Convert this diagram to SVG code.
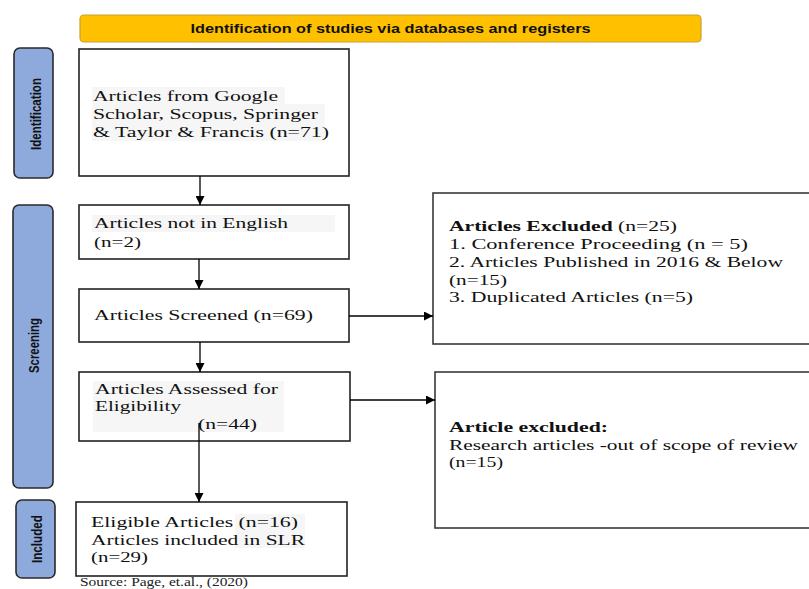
<svg xmlns="http://www.w3.org/2000/svg" width="809" height="589" viewBox="0 0 809 589">
<defs>
<marker id="arr" viewBox="0 0 10 10" refX="10" refY="5" markerWidth="9" markerHeight="9" markerUnits="userSpaceOnUse" orient="auto">
<path d="M0,0 L10,5 L0,10 z" fill="#000"/>
</marker>
<style>
.box{fill:#fff;stroke:#222;stroke-width:1.6}
.rbox{fill:#fff;stroke:#3a3a3a;stroke-width:1.6}
.side{fill:#8EA9DB;stroke:#2a2a2a;stroke-width:1.6}
.hdr{fill:#FFC000;stroke:#C9A030;stroke-width:1.2}
.t{font-family:"Liberation Serif","Times New Roman",serif;font-size:15.5px;fill:#111}
.tb{font-family:"Liberation Serif","Times New Roman",serif;font-size:15.5px;font-weight:bold;fill:#111}
.s{font-family:"Liberation Sans",Arial,sans-serif;font-weight:bold;font-size:14px;fill:#111}
.h{font-family:"Liberation Sans",Arial,sans-serif;font-weight:bold;font-size:12.5px;fill:#111}
.src{font-family:"Liberation Serif","Times New Roman",serif;font-size:12px;fill:#222}
.shade{fill:#f6f6f6}
.c{stroke:#000;stroke-width:1.3;fill:none}
</style>
</defs>

<g id="header">
<rect class="hdr" x="80" y="15" width="621" height="27" rx="4"/>
<text class="h" x="390.5" y="33" text-anchor="middle" textLength="400" lengthAdjust="spacingAndGlyphs">Identification of studies via databases and registers</text>
</g>

<g id="side-identification">
<rect class="side" x="14" y="48" width="39" height="130" rx="6"/>
<text class="s" transform="translate(41,114) rotate(-90)" text-anchor="middle" textLength="72" lengthAdjust="spacingAndGlyphs">Identification</text>
</g>
<g id="side-screening">
<rect class="side" x="13" y="205" width="40" height="283" rx="6"/>
<text class="s" transform="translate(39,345.5) rotate(-90)" text-anchor="middle" textLength="55" lengthAdjust="spacingAndGlyphs">Screening</text>
</g>
<g id="side-included">
<rect class="side" x="16" y="500" width="39" height="78" rx="6"/>
<text class="s" transform="translate(42,539) rotate(-90)" text-anchor="middle" textLength="48" lengthAdjust="spacingAndGlyphs">Included</text>
</g>

<g id="box-identified">
<rect class="box" x="79" y="49" width="270" height="127"/>
<rect class="shade" x="92" y="87" width="193" height="54"/>
<rect class="shade" x="285" y="104" width="40" height="37"/>
<text class="t" x="93" y="101" textLength="185" lengthAdjust="spacingAndGlyphs">Articles from Google</text>
<text class="t" x="93" y="119" textLength="225" lengthAdjust="spacingAndGlyphs">Scholar, Scopus, Springer</text>
<text class="t" x="93" y="137" textLength="236" lengthAdjust="spacingAndGlyphs">&amp; Taylor &amp; Francis (n=71)</text>
</g>

<g id="box-not-english">
<rect class="box" x="79" y="205" width="270" height="54"/>
<rect class="shade" x="92" y="215" width="243" height="17"/>
<text class="t" x="94" y="228" textLength="194" lengthAdjust="spacingAndGlyphs">Articles not in English</text>
<text class="t" x="94" y="247" textLength="47" lengthAdjust="spacingAndGlyphs">(n=2)</text>
</g>

<g id="box-screened">
<rect class="box" x="79" y="289" width="270" height="53"/>
<text class="t" x="94" y="320" textLength="219" lengthAdjust="spacingAndGlyphs">Articles Screened (n=69)</text>
</g>

<g id="box-assessed">
<rect class="box" x="79" y="372" width="271" height="69"/>
<rect class="shade" x="93" y="381" width="191" height="51"/>
<text class="t" x="95" y="394" textLength="183" lengthAdjust="spacingAndGlyphs">Articles Assessed for</text>
<text class="t" x="95" y="411" textLength="86" lengthAdjust="spacingAndGlyphs">Eligibility</text>
<text class="t" x="198" y="429" textLength="59" lengthAdjust="spacingAndGlyphs">(n=44)</text>
</g>

<g id="box-included">
<rect class="box" x="76" y="502" width="271" height="74"/>
<rect class="shade" x="235" y="514" width="70" height="34"/>
<text class="t" x="91" y="527" textLength="207" lengthAdjust="spacingAndGlyphs">Eligible Articles (n=16)</text>
<text class="t" x="91" y="544.5" textLength="214" lengthAdjust="spacingAndGlyphs">Articles included in SLR</text>
<text class="t" x="91" y="562" textLength="57" lengthAdjust="spacingAndGlyphs">(n=29)</text>
</g>

<g id="box-excluded-1">
<rect class="rbox" x="433" y="193" width="385" height="151"/>
<text x="449" y="231" textLength="228" lengthAdjust="spacingAndGlyphs"><tspan class="tb">Articles Excluded</tspan><tspan class="t"> (n=25)</tspan></text>
<text class="t" x="449" y="249" textLength="299" lengthAdjust="spacingAndGlyphs">1. Conference Proceeding   (n = 5)</text>
<text class="t" x="449" y="267" textLength="334" lengthAdjust="spacingAndGlyphs">2. Articles Published in 2016 &amp; Below</text>
<text class="t" x="449" y="284.5" textLength="58" lengthAdjust="spacingAndGlyphs">(n=15)</text>
<text class="t" x="449" y="302" textLength="244" lengthAdjust="spacingAndGlyphs">3. Duplicated Articles (n=5)</text>
</g>

<g id="box-excluded-2">
<rect class="rbox" x="435" y="372" width="385" height="156"/>
<text class="tb" x="449" y="432" textLength="159" lengthAdjust="spacingAndGlyphs">Article excluded:</text>
<text class="t" x="449" y="449.5" textLength="349" lengthAdjust="spacingAndGlyphs">Research articles -out of scope of review</text>
<text class="t" x="449" y="467" textLength="54" lengthAdjust="spacingAndGlyphs">(n=15)</text>
</g>

<g id="connectors">
<line class="c" x1="200" y1="176" x2="200" y2="205" marker-end="url(#arr)"/>
<line class="c" x1="199" y1="259" x2="199" y2="289" marker-end="url(#arr)"/>
<line class="c" x1="200" y1="342" x2="200" y2="372" marker-end="url(#arr)"/>
<line class="c" x1="199" y1="423" x2="199" y2="502" marker-end="url(#arr)"/>
<line class="c" x1="349" y1="316" x2="433" y2="316" marker-end="url(#arr)"/>
<line class="c" x1="350" y1="400" x2="435" y2="400" marker-end="url(#arr)"/>
</g>

<text class="src" x="80" y="586" textLength="168" lengthAdjust="spacingAndGlyphs">Source: Page, et.al., (2020)</text>
</svg>
